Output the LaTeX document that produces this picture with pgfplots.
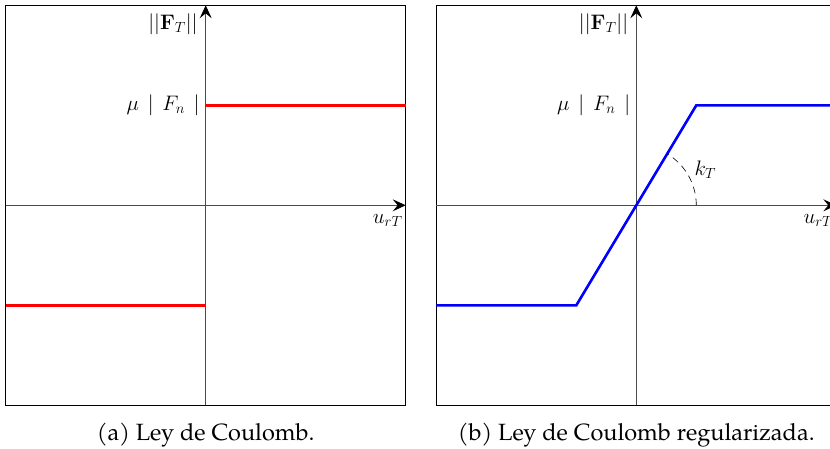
\RequirePackage{fix-cm}
\documentclass[border=0pt]{standalone}
\usepackage[no-math]{fontspec}
\setmainfont{TeX Gyre Pagella}
\usepackage{pgfplots}
\pgfplotsset{compat=1.18}
\usetikzlibrary{arrows.meta}

% Coulomb friction law (left) and its regularized version (right)
\pgfplotstableread{
x y
-2 -1
0 -1
}\coulombneg
\pgfplotstableread{
x y
0 1
2 1
}\coulombpos
\pgfplotstableread{
x y
-2 -1
-0.6 -1
0.6 1
2 1
}\regularized

\pgfplotsset{
  lawaxis/.style={
    scale only axis, width=400pt, height=400pt,
    xmin=-2, xmax=2, ymin=-2, ymax=2,
    xtick=\empty, ytick=\empty,
    axis line style={black, line width=1.1pt},
    clip=false,
  },
}
\tikzset{
  cart/.style={draw=black!70, line width=0.9pt,
    -{Stealth[length=13pt,width=12pt,inset=5pt,color=black]}},
  lbl/.style={inner sep=0pt, font=\fontsize{21}{25}\selectfont},
  caption/.style={anchor=base, font=\fontsize{23.5}{28}\selectfont},
}
\newcommand{\friction}{$\mu\hspace{0.42em}|\hspace{0.42em}F_n\hspace{0.42em}|$}
\newcommand{\tangential}{$||\mathbf{F}_T||$}

\begin{document}
\begin{tikzpicture}[font=\fontsize{18}{21}\selectfont]
\begin{axis}[lawaxis, at={(0,0)}, anchor=south west]
  \draw[cart] (axis cs:-2,0) -- (axis cs:2,0);
  \draw[cart] (axis cs:0,-2) -- (axis cs:0,2);
  \addplot[red, line width=2.6pt] table {\coulombneg};
  \addplot[red, line width=2.6pt] table {\coulombpos};
  \node[lbl, anchor=east] at (axis cs:-0.08,1.81) {\tangential};
  \node[lbl, anchor=east] at (axis cs:-0.06,1.0) {\friction};
  \node[lbl, anchor=east] at (axis cs:1.97,-0.15) {$u_{rT}$};
\end{axis}
\begin{axis}[lawaxis, at={(430.6pt,0)}, anchor=south west]
  \draw[cart] (axis cs:-2,0) -- (axis cs:2,0);
  \draw[cart] (axis cs:0,-2) -- (axis cs:0,2);
  \addplot[blue, line width=2.6pt] table {\regularized};
  \draw[black, line width=0.6pt, dash pattern=on 7pt off 5pt]
    (axis cs:0.6,0) arc[start angle=0, end angle=59, radius=60pt];
  \node[lbl, anchor=east] at (axis cs:-0.08,1.81) {\tangential};
  \node[lbl, anchor=east] at (axis cs:-0.06,1.0) {\friction};
  \node[lbl, anchor=west] at (axis cs:0.58,0.36) {$k_T$};
  \node[lbl, anchor=east] at (axis cs:1.97,-0.15) {$u_{rT}$};
\end{axis}
\node[caption] at (200pt,-34.7pt) {(a) Ley de Coulomb.};
\node[caption] at (630.6pt,-34.7pt) {(b) Ley de Coulomb regularizada.};
\pgfresetboundingbox
\path (-5.7pt,-42.7pt) rectangle (824.3pt,405.3pt);
\end{tikzpicture}
\end{document}
